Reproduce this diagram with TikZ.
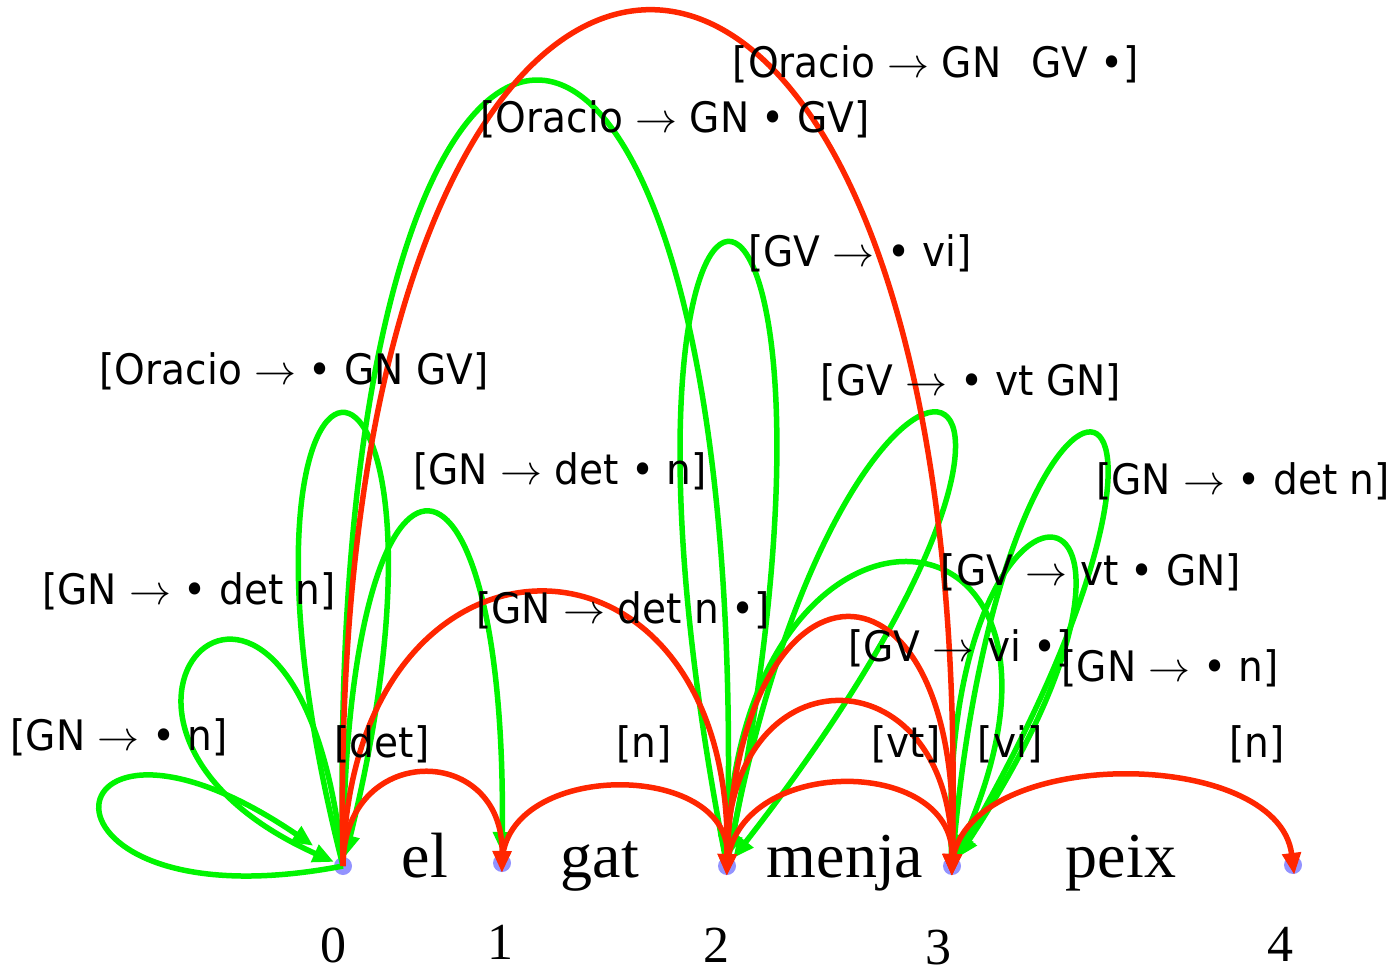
\RequirePackage{fix-cm}
\documentclass[tikz,border=0pt]{standalone}
\usepackage{fontspec}
\usetikzlibrary{arrows.meta}
\newfontfamily\labfont[FakeStretch=0.93]{DejaVu Sans}
\newfontfamily\wordfont{Liberation Serif}
\definecolor{edgegreen}{RGB}{0,245,0}
\definecolor{edgered}{RGB}{255,38,0}
\definecolor{dotblue}{RGB}{128,128,255}
\begin{document}
\begin{tikzpicture}[x=1pt,y=-1pt,
  vertex/.style={circle, fill=dotblue, opacity=0.85, inner sep=0pt, minimum size=18pt},
  active/.style={draw=edgegreen, line width=5.5pt, shorten >=10pt,
                 -{Triangle[length=21pt,width=18pt]}},
  done/.style={draw=edgered, line width=5.5pt, shorten >=-10pt,
               -{Triangle[length=22pt,width=18pt]}},
  itemlabel/.style={font={\labfont\fontsize{42}{48}\selectfont}, inner sep=0pt},
  wordlabel/.style={font={\wordfont\fontsize{64}{70}\selectfont}, inner sep=0pt, anchor=base},
  numlabel/.style={font={\wordfont\fontsize{52}{60}\selectfont}, inner sep=0pt, anchor=base},
]
\useasboundingbox (0,0) rectangle (1395,973);

% chart positions
\node[vertex] (n0) at (343,866) {};
\node[vertex] (n1) at (502,863) {};
\node[vertex] (n2) at (727,866) {};
\node[vertex] (n3) at (952,866) {};
\node[vertex] (n4) at (1293,865) {};

% words and position numbers
\node[wordlabel] (w0) at (425,877) {el};
\node[wordlabel] (w1) at (600,877) {gat};
\node[wordlabel] (w2) at (845,877) {menja};
\node[wordlabel] (w3) at (1121,877) {peix};
\node[numlabel] (k0) at (333,962) {0};
\node[numlabel] (k1) at (500,959) {1};
\node[numlabel] (k2) at (716,962) {2};
\node[numlabel] (k3) at (938,964) {3};
\node[numlabel] (k4) at (1280,961) {4};

% active edges
\draw[active, shorten >=36pt] (n0.center) .. controls (10,930) and (40,660) .. (n0.center);
\draw[active] (n0.center) .. controls (300,440) and (18,720) .. (n0.center);
\draw[active] (n0.center) .. controls (190,266) and (490,266) .. (n0.center);
\draw[active] (n0.center) .. controls (345,398) and (507,398) .. (n1.center);
\draw[active] (n0.center) .. controls (320,-177) and (750,-177) .. (n2.center);
\draw[active] (n2.center) .. controls (564,38) and (890,38) .. (n2.center);
\draw[active] (n2.center) .. controls (840,230) and (1169,299) .. (n2.center);
\draw[active] (n2.center) .. controls (730,450) and (1123,479) .. (n3.center);
\draw[active] (n3.center) .. controls (1000,270) and (1269,313) .. (n3.center);
\draw[active] (n3.center) .. controls (930,420) and (1230,443) .. (n3.center);

% complete edges
\draw[done] (n0.center) .. controls (343,742) and (503,742) .. (n1.center);
\draw[done] (n1.center) .. controls (505,760) and (730,760) .. (n2.center);
\draw[done] (n2.center) .. controls (735,755) and (953,755) .. (n3.center);
\draw[done] (n2.center) .. controls (720,647) and (952,647) .. (n3.center);
\draw[done] (n2.center) .. controls (735,535) and (964,535) .. (n3.center);
\draw[done] (n0.center) .. controls (350,501) and (733,501) .. (n2.center);
\draw[done] (n3.center) .. controls (960,745) and (1278,745) .. (n4.center);
\draw[done] (n0.center) .. controls (320,-274) and (980,-274) .. (n3.center);

% edge labels
\node[itemlabel] (a1) at (936,64) {[Oracio $\rightarrow$ GN\hspace{30pt}GV •]};
\node[itemlabel] (a2) at (675,119) {[Oracio $\rightarrow$ GN • GV]};
\node[itemlabel] (a3) at (860,253) {[GV $\rightarrow$ • vi]};
\node[itemlabel] (a4) at (294,371) {[Oracio $\rightarrow$ • GN GV]};
\node[itemlabel] (a5) at (971,382) {[GV $\rightarrow$ • vt GN]};
\node[itemlabel] (a6) at (560,471) {[GN $\rightarrow$ det • n]};
\node[itemlabel] (a7) at (1243,481) {[GN $\rightarrow$ • det n]};
\node[itemlabel] (a8) at (1091,572) {[GV $\rightarrow$ vt • GN]};
\node[itemlabel] (a9) at (189,591) {[GN $\rightarrow$ • det n]};
\node[itemlabel] (a10) at (623,610) {[GN $\rightarrow$ det n •]};
\node[itemlabel] (a11) at (960,648) {[GV $\rightarrow$ vi •]};
\node[itemlabel] (a12) at (1170,668) {[GN $\rightarrow$ • n]};
\node[itemlabel] (a13) at (119,737) {[GN $\rightarrow$ • n]};
\node[itemlabel] (a14) at (382,744) {[det]};
\node[itemlabel] (a15) at (644,744) {[n]};
\node[itemlabel] (a16) at (906,744) {[vt]};
\node[itemlabel] (a17) at (1010,744) {[vi]};
\node[itemlabel] (a18) at (1257,744) {[n]};
\end{tikzpicture}
\end{document}
